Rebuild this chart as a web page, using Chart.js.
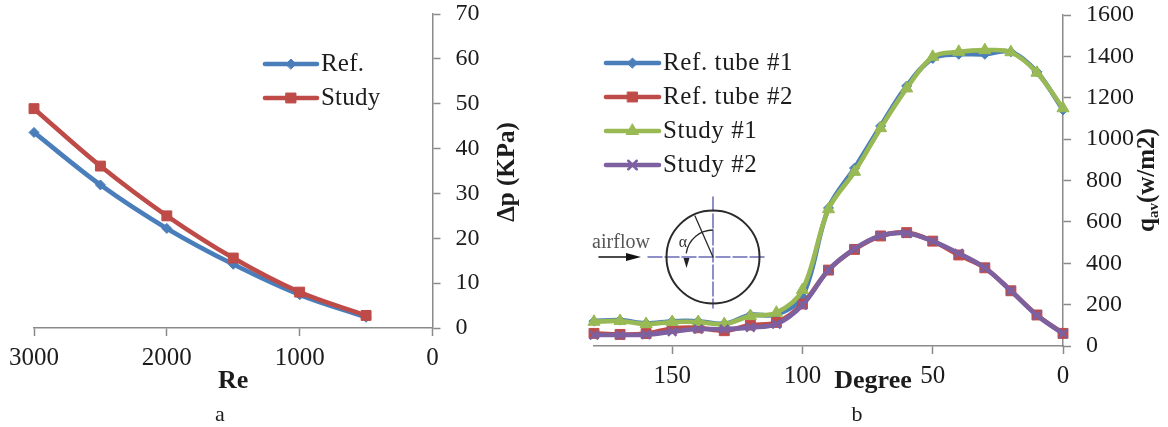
<!DOCTYPE html>
<html>
<head>
<meta charset="utf-8">
<style>
html,body{margin:0;padding:0;background:#fff;overflow:hidden}
canvas{position:absolute;top:0}
#a{left:0}
#b{left:534px}
</style>
<script src="https://cdn.jsdelivr.net/npm/chart.js@4/dist/chart.umd.min.js"></script>
</head>
<body>
<canvas id="a" width="530" height="427"></canvas>
<canvas id="b" width="634" height="427"></canvas>
<script>
// ---- chart a ----
const reA = [3000, 2500, 2000, 1500, 1000, 500];
const refA = [43.6, 31.9, 22.2, 14.2, 7.4, 2.4];
const studyA = [48.9, 36.1, 25.0, 15.6, 8.0, 2.8];
const xTicksA = [0, 1000, 2000, 3000];
// ---- chart b ----
const degrees = [180, 170, 160, 150, 140, 130, 120, 110, 100, 90, 80, 70, 60, 50, 40, 30, 20, 10, 0];
const refTube1 = [120, 125, 110, 120, 120, 108, 150, 152, 238, 667, 860, 1063, 1257, 1390, 1410, 1410, 1422, 1325, 1141];
const refTube2 = [61, 56, 60, 85, 88, 74, 101, 114, 203, 367, 467, 532, 548, 507, 440, 378, 267, 150, 61];
const study1 = [117, 121, 106, 116, 116, 106, 145, 161, 271, 661, 842, 1053, 1245, 1398, 1422, 1430, 1420, 1321, 1149];
const study2 = [53, 53, 55, 69, 82, 81, 90, 106, 198, 367, 470, 533, 545, 507, 448, 378, 267, 148, 60];
const xTicksB = [0, 50, 100, 150];

const SERIF = '"Liberation Serif","Times New Roman",serif';
const AXIS = '#8a8a8a', TEXT = '#1c1c1c';
const BLUE = '#4A7EBB', RED = '#BE4B48', GREEN = '#98B954', PURPLE = '#7D60A0';

function pts(xs, ys){ return xs.map((x,i)=>({x, y:ys[i]})); }
function series(label, xs, ys, color, style, radius, order){
  return {label, data:pts(xs,ys), borderColor:color, backgroundColor:color,
    borderWidth:4.6, tension:0.35, showLine:true, pointStyle:style, pointRadius:radius,
    pointBorderColor:color, pointBackgroundColor:color, pointBorderWidth:style==='crossRot'?2.5:1, order, clip:false};
}
function marker(ctx, ds, x, y){
  ctx.save();
  ctx.strokeStyle = ds.borderColor; ctx.fillStyle = ds.borderColor; ctx.lineWidth = ds.pointBorderWidth;
  Chart.helpers.drawPoint(ctx, {pointStyle:ds.pointStyle, rotation:0, radius:ds.pointRadius, borderWidth:ds.pointBorderWidth}, x, y);
  ctx.restore();
}
function rotatedTitle(c, x, y, parts){
  c.save();
  c.translate(x, y); c.rotate(-Math.PI/2);
  c.textAlign='left'; c.textBaseline='middle'; c.fillStyle=TEXT;
  let total=0;
  parts.forEach(p=>{ c.font='bold '+p.size+'px '+SERIF; total+=c.measureText(p.text).width; });
  let px=-total/2;
  parts.forEach(p=>{ c.font='bold '+p.size+'px '+SERIF; c.fillText(p.text,px,p.dy); px+=c.measureText(p.text).width; });
  c.restore();
}
const overlay = {
  id:'overlay',
  afterDraw(chart, args, opt){
    const c = chart.ctx;
    c.save();
    c.textBaseline = 'middle'; c.textAlign = 'left';
    // legend from the datasets' own labels and styles
    const L = opt.legend;
    chart.data.datasets.forEach((ds,i)=>{
      const y = L.y + i*L.step;
      c.strokeStyle = ds.borderColor; c.lineWidth = 4.6; c.lineCap = 'round';
      c.beginPath(); c.moveTo(L.x0, y); c.lineTo(L.x1, y); c.stroke();
      marker(c, ds, (L.x0+L.x1)/2, y);
      c.fillStyle = TEXT; c.font = '25px '+SERIF;
      c.letterSpacing = L.spacing;
      c.fillText(ds.label, L.x1+4, y);
      c.letterSpacing = '0px';
    });
    c.fillStyle = TEXT;
    c.font = '22px '+SERIF; c.textAlign='center';
    c.fillText(opt.caption.text, opt.caption.x, opt.caption.y);
    if(opt.extra) opt.extra(c);
    c.restore();
  }
};
function plainTick(v){ return String(v); }
function axisX(ticks, max, titleOpts, height){
  return {
    type:'linear', reverse:true, min:0, max,
    afterBuildTicks(s){ s.ticks = ticks.map(v=>({value:v})); },
    afterFit(s){ s.height = height; s.paddingLeft = 0; s.paddingRight = 0; },
    ticks:{font:{family:SERIF,size:25}, color:TEXT, padding:7, maxRotation:0, autoSkip:false, callback:plainTick},
    grid:{drawOnChartArea:false, tickLength:8, tickColor:AXIS, tickWidth:1.5},
    border:{color:AXIS, width:1.5},
    title:titleOpts
  };
}
function axisY(max, step, width){
  return {
    position:'right', min:0, max,
    afterFit(s){ s.width = width; s.paddingTop = 0; s.paddingBottom = 0; },
    ticks:{stepSize:step, font:{family:SERIF,size:24}, color:TEXT, padding:15, callback:plainTick},
    grid:{drawOnChartArea:false, tickLength:8, tickColor:AXIS, tickWidth:1.5},
    border:{color:AXIS, width:1.5}
  };
}
new Chart(document.getElementById('a'), {
  type:'scatter',
  data:{datasets:[
    series('Ref.', reA, refA, BLUE, 'rectRot', 5, 2),
    series('Study', reA, studyA, RED, 'rect', 7, 1)
  ]},
  options:{
    responsive:false, animation:false,
    layout:{padding:{left:34, top:14, right:0, bottom:0}},
    plugins:{legend:{display:false}, tooltip:{enabled:false},
      overlay:{legend:{x0:265,x1:317,y:64,step:34,spacing:'0.2px'}, caption:{text:'a',x:220,y:415},
        extra(c){ rotatedTitle(c, 508, 172, [{text:'Δp (KPa)', size:25, dy:0}]); }}},
    scales:{
      x:axisX(xTicksA, 3000, {display:true, text:'Re', color:TEXT, font:{family:SERIF,size:26,weight:'bold'}, padding:{top:0,bottom:30}}, 99),
      y:axisY(70, 10, 97.5)
    }
  },
  plugins:[overlay]
});
new Chart(document.getElementById('b'), {
  type:'scatter',
  data:{datasets:[
    series('Ref. tube #1', degrees, refTube1, BLUE, 'rectRot', 5, 4),
    series('Ref. tube #2', degrees, refTube2, RED, 'rect', 7, 3),
    series('Study #1', degrees, study1, GREEN, 'triangle', 7, 2),
    series('Study #2', degrees, study2, PURPLE, 'crossRot', 6, 1)
  ]},
  options:{
    responsive:false, animation:false,
    layout:{padding:{left:60, top:15, right:0, bottom:0}},
    plugins:{legend:{display:false}, tooltip:{enabled:false},
      overlay:{legend:{x0:72,x1:125,y:63,step:34,spacing:'0.6px'}, caption:{text:'b',x:323,y:415},
        extra(c){
          // axis titles placed as in the figure
          c.fillStyle = TEXT; c.textAlign='center';
          c.font = 'bold 26px '+SERIF;
          c.fillText('Degree', 339, 381);
          rotatedTitle(c, 614, 180, [{text:'q',size:25,dy:0},{text:'av',size:15,dy:6},{text:'(w/m2)',size:25,dy:0}]);
          // flow diagram inset
          const cx=179, cy=257;
          c.strokeStyle='#6a6ab8'; c.lineWidth=1.5; c.setLineDash([14,3]);
          c.beginPath(); c.moveTo(114,cy); c.lineTo(232,cy); c.moveTo(cx,197); c.lineTo(cx,308); c.stroke();
          c.setLineDash([]);
          c.strokeStyle='#2a2a2a'; c.lineWidth=2;
          c.beginPath(); c.arc(cx,cy,46.5,0,Math.PI*2); c.stroke();
          c.lineWidth=1.3;
          c.beginPath(); c.moveTo(cx,cy); c.lineTo(161,216); c.stroke();
          c.beginPath(); c.arc(cx,cy,27,-Math.PI/2,Math.PI*1.05,true); c.stroke();
          c.fillStyle='#222';
          c.beginPath(); c.moveTo(152.5,268); c.lineTo(155.5,258); c.lineTo(149.5,258); c.closePath(); c.fill();
          c.font='16px '+SERIF; c.textAlign='center'; c.fillStyle='#333';
          c.fillText('α', 149, 243);
          c.font='20px '+SERIF; c.fillStyle='#555';
          c.fillText('airflow', 87, 243);
          c.strokeStyle='#111'; c.lineWidth=1.5;
          c.beginPath(); c.moveTo(65,257); c.lineTo(96,257); c.stroke();
          c.fillStyle='#111';
          c.beginPath(); c.moveTo(107,257); c.lineTo(92,253); c.lineTo(92,261); c.closePath(); c.fill();
        }}},
    scales:{
      x:axisX(xTicksB, 180, {display:false}, 81),
      y:axisY(1600, 200, 105)
    }
  },
  plugins:[overlay]
});
</script>
</body>
</html>
